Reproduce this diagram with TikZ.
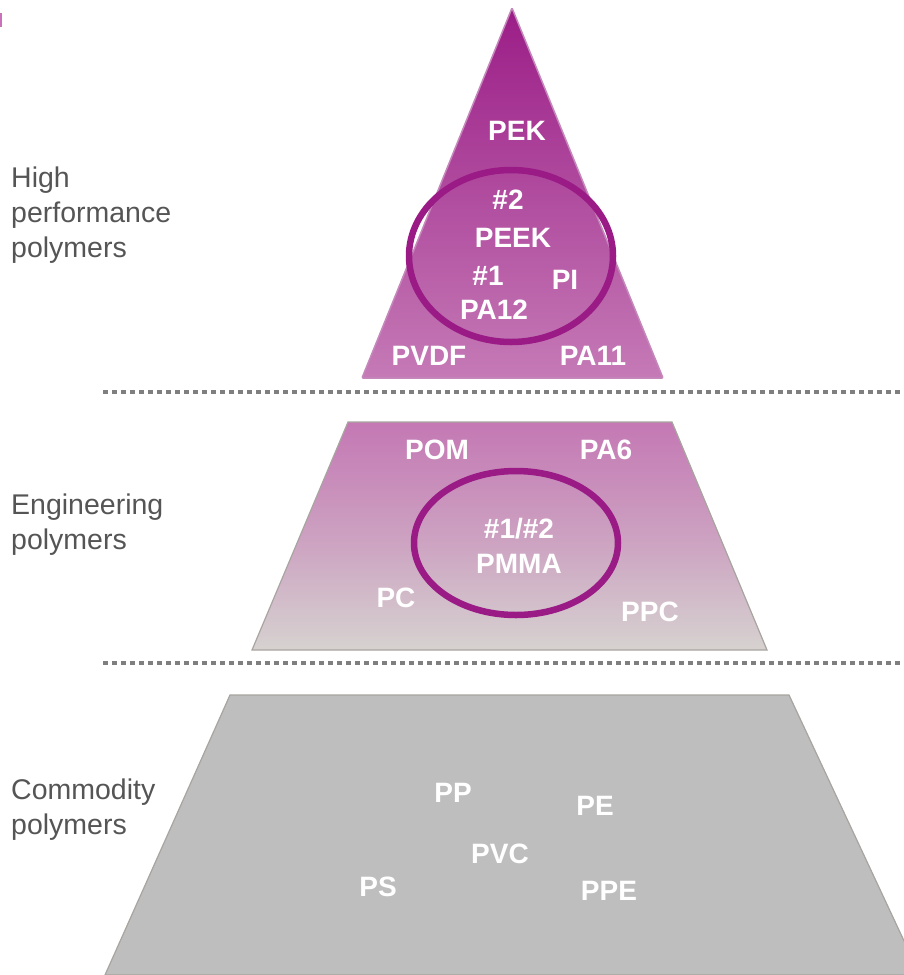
\documentclass[tikz,border=0pt]{standalone}
\usepackage{fontspec}
\setmainfont{Liberation Sans}
\definecolor{peaktop}{HTML}{9B1D87}
\definecolor{peakbot}{HTML}{C57AB6}
\definecolor{peakedge}{HTML}{C488BB}
\definecolor{midtop}{HTML}{C478B4}
\definecolor{midbot}{HTML}{D6D2D0}
\definecolor{baseg}{HTML}{BEBEBE}
\definecolor{edgeg}{HTML}{A8A4A0}
\definecolor{ringcol}{HTML}{9A1A86}
\definecolor{sepcol}{HTML}{7F7F7F}
\definecolor{tiertext}{HTML}{555555}
\definecolor{markcol}{HTML}{C873B9}

\tikzset{
  poly/.style = {text=white, font=\bfseries\fontsize{28}{32}\selectfont, inner sep=0pt},
  tier/.style = {text=tiertext, font=\fontsize{28.5}{35}\selectfont, align=left, anchor=west, inner sep=0pt},
  ring/.style = {draw=ringcol, line width=6.5pt},
  sepline/.style = {draw=sepcol, line width=4.5pt, dash pattern=on 4.5pt off 4.5pt},
}

\begin{document}
\begin{tikzpicture}[x=1pt, y=-1pt]
\useasboundingbox (0,0) rectangle (904,975);
\fill [markcol] (0,13) rectangle (2,27);
% the three tiers
\shade [top color=peaktop, bottom color=peakbot, draw=peakedge, line width=1.5pt, rounded corners=1pt]
  (512,8) -- (663,378) -- (362,378) -- cycle;
\shade [top color=midtop, bottom color=midbot, middle color=midtop!55!midbot, draw=edgeg, line width=1.2pt]
  (348,422) -- (672,422) -- (767,650) -- (252,650) -- cycle;
\path [fill=baseg, draw=edgeg, line width=1.2pt]
  (230,695) -- (789,695) -- (920,975) -- (105,975) -- cycle;
% separators
\path [sepline] (103,392) -- (904,392);
\path [sepline] (103,663) -- (904,663);
% rings
\draw [ring] (511,256) ellipse [x radius=102, y radius=86];
\draw [ring] (516,543) ellipse [x radius=102, y radius=72];
% tier names
\node [tier] (high) at (11,215) {High\\performance\\polymers};
\node [tier] (eng) at (11,525) {Engineering\\polymers};
\node [tier] (com) at (11,810) {Commodity\\polymers};
% high performance
\node [poly] (pek) at (517,131) {PEK};
\node [poly] (n2) at (508,200) {\#2};
\node [poly] (peek) at (513,238) {PEEK};
\node [poly] (n1) at (488,276) {\#1};
\node [poly] (pi) at (565,280) {PI};
\node [poly] (pa12) at (494,310) {PA12};
\node [poly] (pvdf) at (429,356) {PVDF};
\node [poly] (pa11) at (593,356) {PA11};
% engineering
\node [poly] (pom) at (437,450) {POM};
\node [poly] (pa6) at (606,450) {PA6};
\node [poly] (n12) at (519,529) {\#1/\#2};
\node [poly] (pmma) at (519,564) {PMMA};
\node [poly] (pc) at (396,598) {PC};
\node [poly] (ppc) at (650,612) {PPC};
% commodity
\node [poly] (pp) at (453,793) {PP};
\node [poly] (pe) at (595,806) {PE};
\node [poly] (pvc) at (500,854) {PVC};
\node [poly] (ps) at (378,887) {PS};
\node [poly] (ppe) at (609,891) {PPE};
\end{tikzpicture}
\end{document}
